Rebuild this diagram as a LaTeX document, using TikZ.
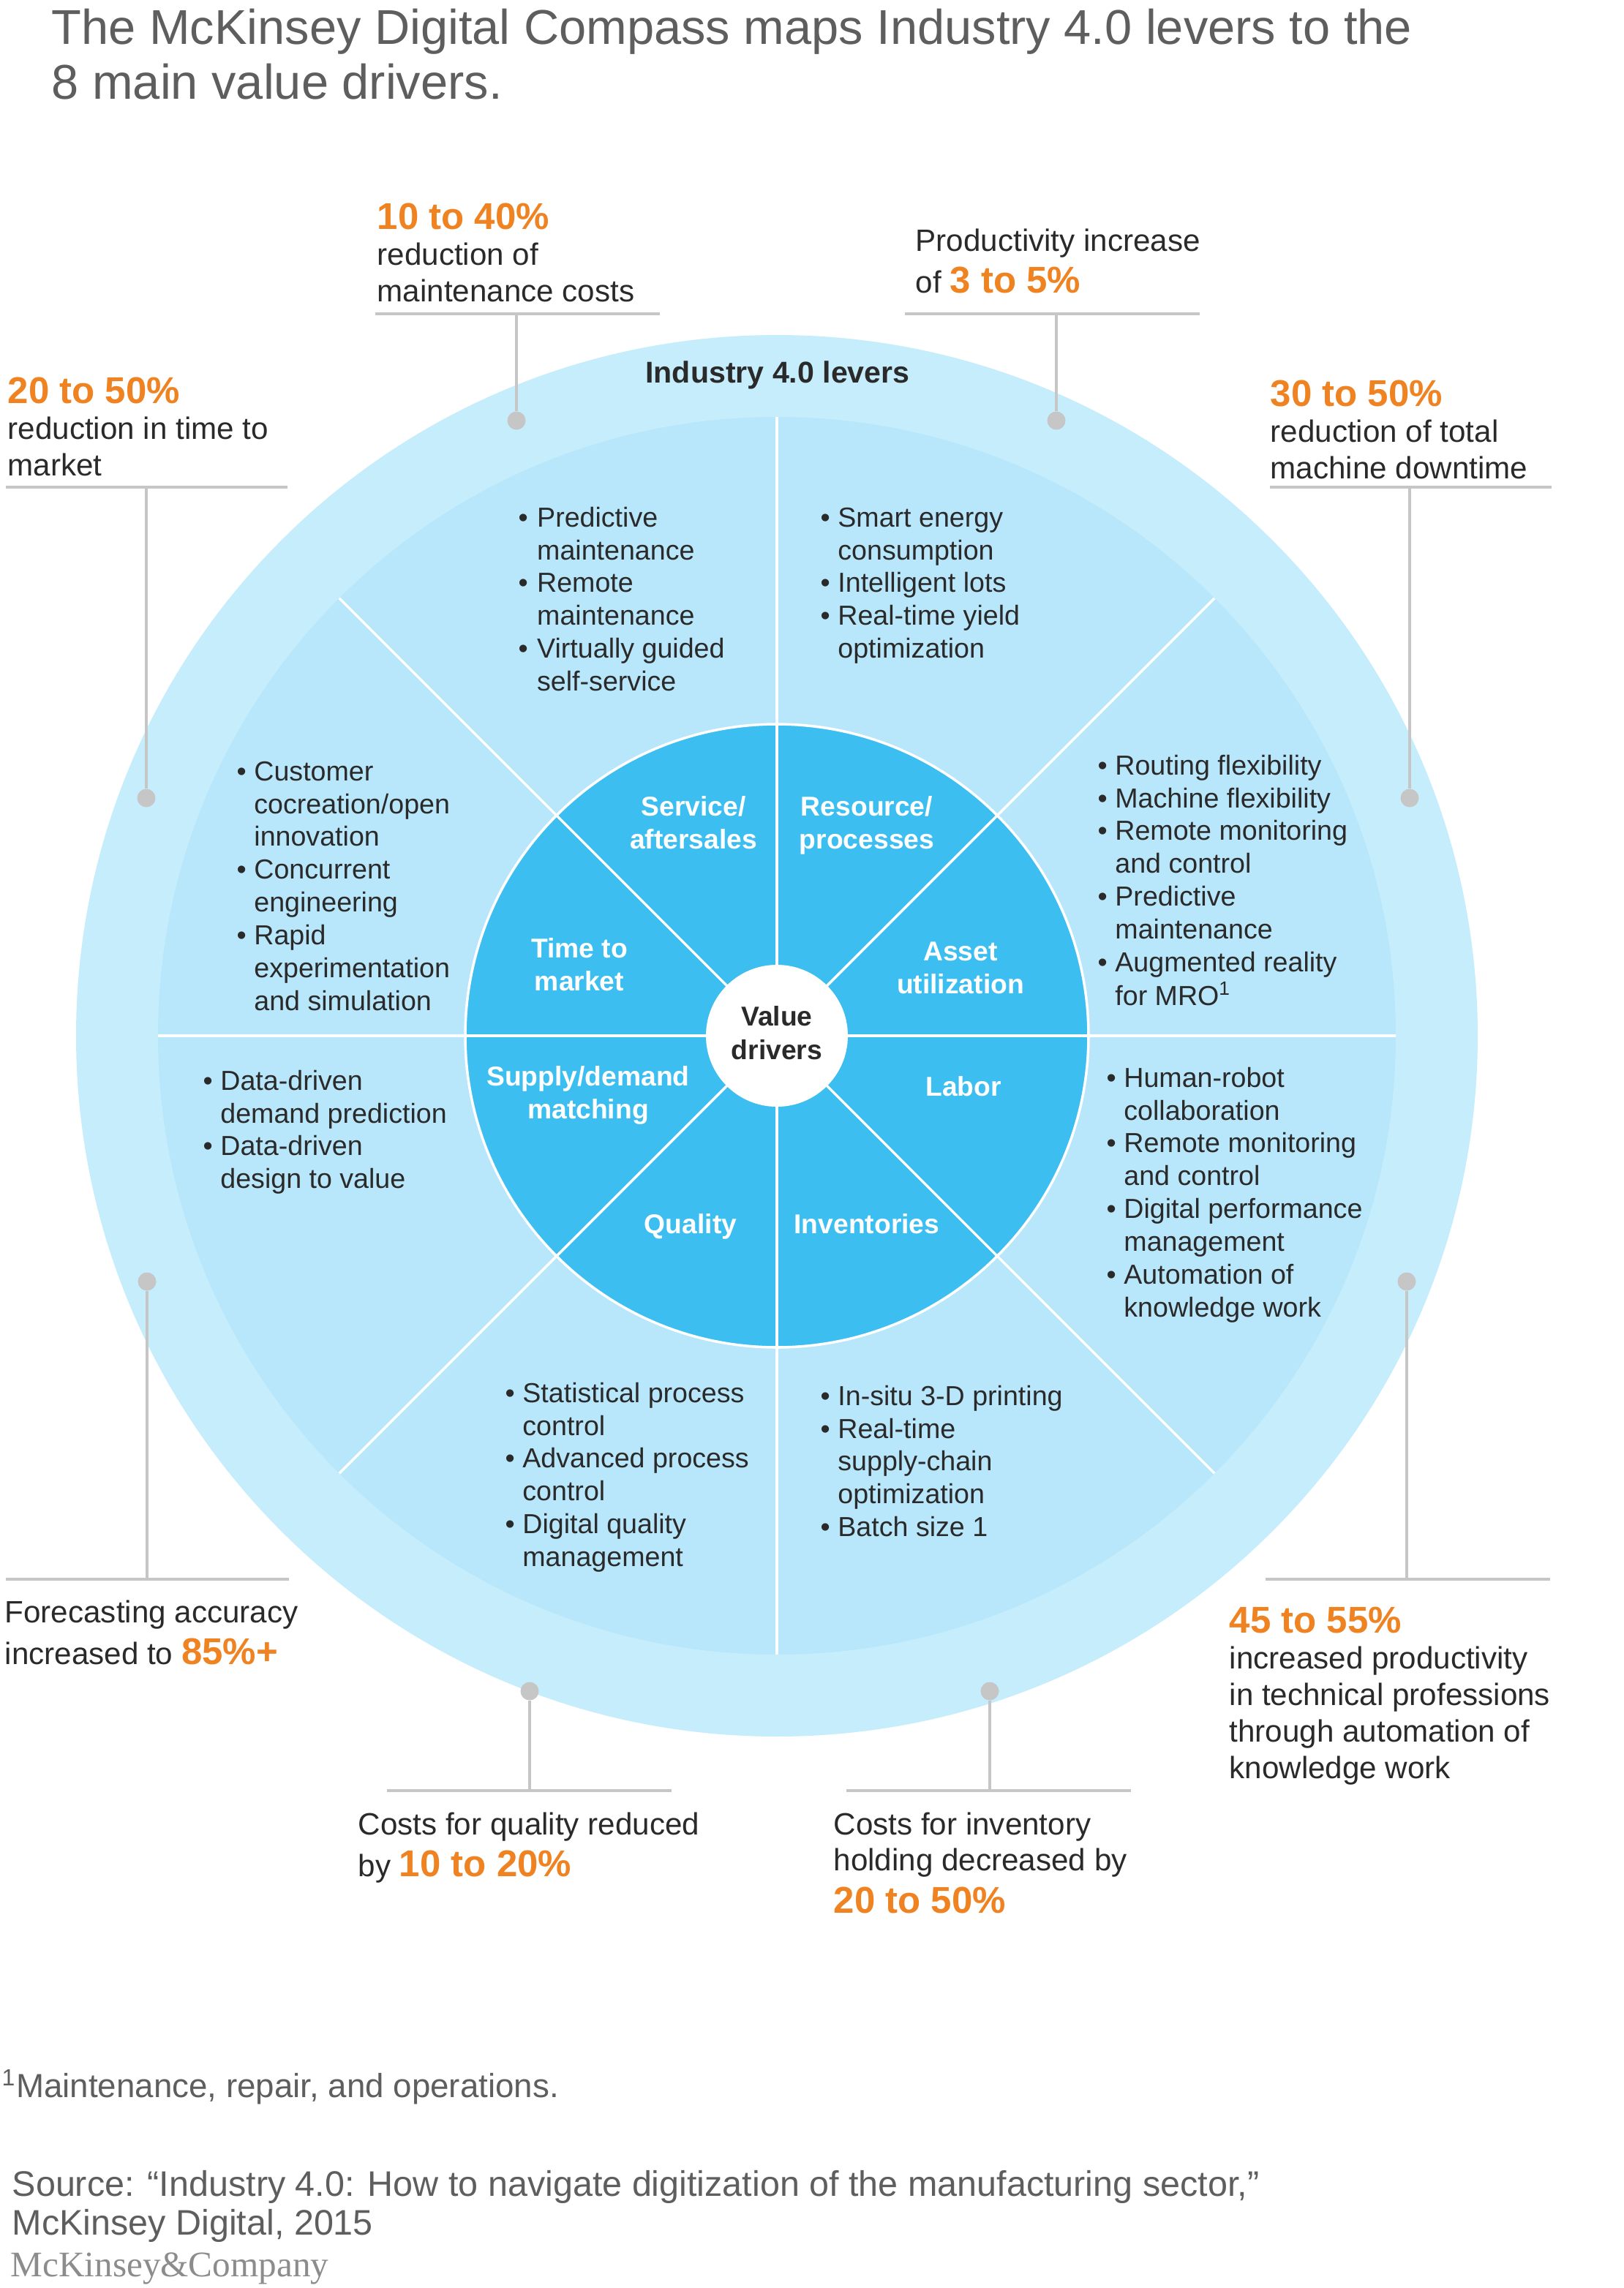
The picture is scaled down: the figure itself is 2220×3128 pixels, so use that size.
\documentclass[tikz,border=0pt]{standalone}
\usepackage{fontspec}
\setmainfont{Liberation Sans}
\newfontfamily\logofont{Liberation Serif}
\usepackage{xcolor}
\usetikzlibrary{positioning}
\definecolor{ink}{HTML}{2A2A2A}
\definecolor{inkmute}{HTML}{5E5E5E}
\definecolor{logoc}{HTML}{8C8C8C}
\definecolor{ringc}{HTML}{C6EDFC}
\definecolor{leverc}{HTML}{B8E6FA}
\definecolor{driverc}{HTML}{3CBFF0}
\definecolor{rulec}{HTML}{C6C6C6}
\definecolor{hlc}{HTML}{EF8221}
\newcommand{\hl}[1]{{\color{hlc}\bfseries\fontsize{14.5}{16}\selectfont #1}}

\begin{document}
\begin{tikzpicture}[
  x=0.1mm, y=-0.1mm,
  every node/.style={inner sep=0pt},
  title/.style={anchor=base west, text=inkmute, font=\fontsize{19}{21.5}\selectfont},
  callout/.style={anchor=base west, text=ink, font=\fontsize{12}{14.2}\selectfont},
  levers/.style={anchor=base west, text=ink, font=\fontsize{10.7}{12.8}\selectfont},
  driver/.style={anchor=base, text=white, font=\bfseries\fontsize{10.6}{13}\selectfont},
  hub/.style={circle, fill=white, minimum size=1.94cm, text=ink,
    font=\bfseries\fontsize{10.6}{13}\selectfont},
  dot/.style={circle, fill=rulec, minimum size=2.5mm},
  rule/.style={draw=rulec, line width=1.3pt},
  stem/.style={draw=rulec, line width=0.9pt},
  divider/.style={draw=white, line width=1pt}
]
\fill[white] (0,0) rectangle (2220,3128);
\useasboundingbox (0,0) rectangle (2220,3128);

% Title
\node[title] (title) at (70,60) {\begin{tabular}[t]{@{}l@{}}The McKinsey Digital Compass maps Industry 4.0 levers to the\\8 main value drivers.\end{tabular}};

% The compass: rings, sectors and hub
\def\Rout{9.58cm}
\def\Rmid{8.46cm}
\def\Rdrv{4.26cm}
\coordinate (ctr) at (1062,1416);
\fill[ringc] (ctr) circle[radius=\Rout];
\fill[leverc] (ctr) circle[radius=\Rmid];
\filldraw[fill=driverc, draw=white, line width=1pt] (ctr) circle[radius=\Rdrv];
\foreach \a in {0,45,...,315}
  \draw[divider] (ctr) -- ++(\a:\Rmid);
\node[hub] (hub) at (ctr) {\begin{tabular}{@{}c@{}}Value\\drivers\end{tabular}};

\node[anchor=base, text=ink, font=\bfseries\fontsize{11.7}{14}\selectfont] (levers) at (1063,523) {Industry 4.0 levers};

% Value drivers
\node[driver] (service)   at (948,1115)  {\begin{tabular}[t]{@{}c@{}}Service/\\aftersales\end{tabular}};
\node[driver] (resource)  at (1185,1115) {\begin{tabular}[t]{@{}c@{}}Resource/\\processes\end{tabular}};
\node[driver] (timemkt)   at (792,1309)  {\begin{tabular}[t]{@{}c@{}}Time to\\market\end{tabular}};
\node[driver] (asset)     at (1313,1313) {\begin{tabular}[t]{@{}c@{}}Asset\\utilization\end{tabular}};
\node[driver] (supply)    at (804,1484)  {\begin{tabular}[t]{@{}c@{}}Supply/demand\\matching\end{tabular}};
\node[driver] (labor)     at (1317,1498) {Labor};
\node[driver] (quality)   at (944,1686)  {Quality};
\node[driver] (inventory) at (1185,1686) {Inventories};

% Levers in the sectors
\node[levers] (lvService) at (708,720) {\begin{tabular}[t]{@{}l@{\hspace{3.5pt}}l@{}}
\textbullet & Predictive\\ & maintenance\\
\textbullet & Remote\\ & maintenance\\
\textbullet & Virtually guided\\ & self-service\end{tabular}};
\node[levers] (lvResource) at (1121,720) {\begin{tabular}[t]{@{}l@{\hspace{3pt}}l@{}}
\textbullet & Smart energy\\ & consumption\\
\textbullet & Intelligent lots\\
\textbullet & Real-time yield\\ & optimization\end{tabular}};
\node[levers] (lvTime) at (323,1067) {\begin{tabular}[t]{@{}l@{\hspace{3pt}}l@{}}
\textbullet & Customer\\ & cocreation/open\\ & innovation\\
\textbullet & Concurrent\\ & engineering\\
\textbullet & Rapid\\ & experimentation\\ & and simulation\end{tabular}};
\node[levers] (lvAsset) at (1500,1059) {\begin{tabular}[t]{@{}l@{\hspace{3pt}}l@{}}
\textbullet & Routing flexibility\\
\textbullet & Machine flexibility\\
\textbullet & Remote monitoring\\ & and control\\
\textbullet & Predictive\\ & maintenance\\
\textbullet & Augmented reality\\ & for MRO\textsuperscript{1}\end{tabular}};
\node[levers] (lvSupply) at (277,1490) {\begin{tabular}[t]{@{}l@{\hspace{3pt}}l@{}}
\textbullet & Data-driven\\ & demand prediction\\
\textbullet & Data-driven\\ & design to value\end{tabular}};
\node[levers] (lvLabor) at (1512,1486) {\begin{tabular}[t]{@{}l@{\hspace{3pt}}l@{}}
\textbullet & Human-robot\\ & collaboration\\
\textbullet & Remote monitoring\\ & and control\\
\textbullet & Digital performance\\ & management\\
\textbullet & Automation of\\ & knowledge work\end{tabular}};
\node[levers] (lvQuality) at (690,1917) {\begin{tabular}[t]{@{}l@{\hspace{3pt}}l@{}}
\textbullet & Statistical process\\ & control\\
\textbullet & Advanced process\\ & control\\
\textbullet & Digital quality\\ & management\end{tabular}};
\node[levers] (lvInventory) at (1121,1921) {\begin{tabular}[t]{@{}l@{\hspace{3pt}}l@{}}
\textbullet & In-situ 3-D printing\\
\textbullet & Real-time\\ & supply-chain\\ & optimization\\
\textbullet & Batch size 1\end{tabular}};

% Callouts: text, rule, stem down to a dot on the ring
\node[callout] (coMaint) at (515,313) {\begin{tabular}[t]{@{}l@{}}\hl{10 to 40\%}\\reduction of\\maintenance costs\end{tabular}};
\coordinate (coMaintA) at (513,429); \coordinate (coMaintB) at (902,429);
\node[dot] (dMaint) at (706,575) {};
\draw[rule] (coMaintA) -- (coMaintB);
\draw[stem] (dMaint) -- (dMaint |- coMaintA);

\node[callout] (coProd) at (1251,343) {\begin{tabular}[t]{@{}l@{}}Productivity increase\\[2pt]of \hl{3 to 5\%}\end{tabular}};
\coordinate (coProdA) at (1237,429); \coordinate (coProdB) at (1640,429);
\node[dot] (dProd) at (1444,575) {};
\draw[rule] (coProdA) -- (coProdB);
\draw[stem] (dProd) -- (dProd |- coProdA);

\node[callout] (coTime) at (10,551) {\begin{tabular}[t]{@{}l@{}}\hl{20 to 50\%}\\reduction in time to\\market\end{tabular}};
\coordinate (coTimeA) at (8,666); \coordinate (coTimeB) at (393,666);
\node[dot] (dTime) at (200,1091) {};
\draw[rule] (coTimeA) -- (coTimeB);
\draw[stem] (dTime) -- (dTime |- coTimeA);

\node[callout] (coDown) at (1736,555) {\begin{tabular}[t]{@{}l@{}}\hl{30 to 50\%}\\reduction of total\\machine downtime\end{tabular}};
\coordinate (coDownA) at (1736,666); \coordinate (coDownB) at (2121,666);
\node[dot] (dDown) at (1927,1091) {};
\draw[rule] (coDownA) -- (coDownB);
\draw[stem] (dDown) -- (dDown |- coDownA);

\node[callout] (coFcst) at (6,2218) {\begin{tabular}[t]{@{}l@{}}Forecasting accuracy\\[2pt]increased to \hl{85\%+}\end{tabular}};
\coordinate (coFcstA) at (8,2159); \coordinate (coFcstB) at (395,2159);
\node[dot] (dFcst) at (201,1752) {};
\draw[rule] (coFcstA) -- (coFcstB);
\draw[stem] (dFcst) -- (dFcst |- coFcstA);

\node[callout] (coLabor) at (1680,2232) {\begin{tabular}[t]{@{}l@{}}\hl{45 to 55\%}\\increased productivity\\in technical professions\\through automation of\\knowledge work\end{tabular}};
\coordinate (coLaborA) at (1730,2159); \coordinate (coLaborB) at (2119,2159);
\node[dot] (dLabor) at (1923,1752) {};
\draw[rule] (coLaborA) -- (coLaborB);
\draw[stem] (dLabor) -- (dLabor |- coLaborA);

\node[callout] (coQual) at (489,2508) {\begin{tabular}[t]{@{}l@{}}Costs for quality reduced\\[2pt]by \hl{10 to 20\%}\end{tabular}};
\coordinate (coQualA) at (529,2448); \coordinate (coQualB) at (918,2448);
\node[dot] (dQual) at (724,2312) {};
\draw[rule] (coQualA) -- (coQualB);
\draw[stem] (dQual) -- (dQual |- coQualA);

\node[callout] (coInv) at (1139,2508) {\begin{tabular}[t]{@{}l@{}}Costs for inventory\\holding decreased by\\[2pt]\hl{20 to 50\%}\end{tabular}};
\coordinate (coInvA) at (1157,2448); \coordinate (coInvB) at (1546,2448);
\node[dot] (dInv) at (1353,2312) {};
\draw[rule] (coInvA) -- (coInvB);
\draw[stem] (dInv) -- (dInv |- coInvA);

% Notes
\node[anchor=base west, text=inkmute, font=\fontsize{13}{15.3}\selectfont] (note) at (2,2867) {\textsuperscript{1}Maintenance, repair, and operations.};
\node[anchor=base west, text=inkmute, font=\fontsize{13.8}{15.3}\selectfont] (source) at (16,3002) {\begin{tabular}[t]{@{}l@{}}Source: “Industry 4.0: How to navigate digitization of the manufacturing sector,”\\McKinsey Digital, 2015\end{tabular}};
\node[anchor=base west, text=logoc, font=\logofont\fontsize{14}{15}\selectfont] (logo) at (14,3112) {McKinsey\&Company};
\end{tikzpicture}
\end{document}
